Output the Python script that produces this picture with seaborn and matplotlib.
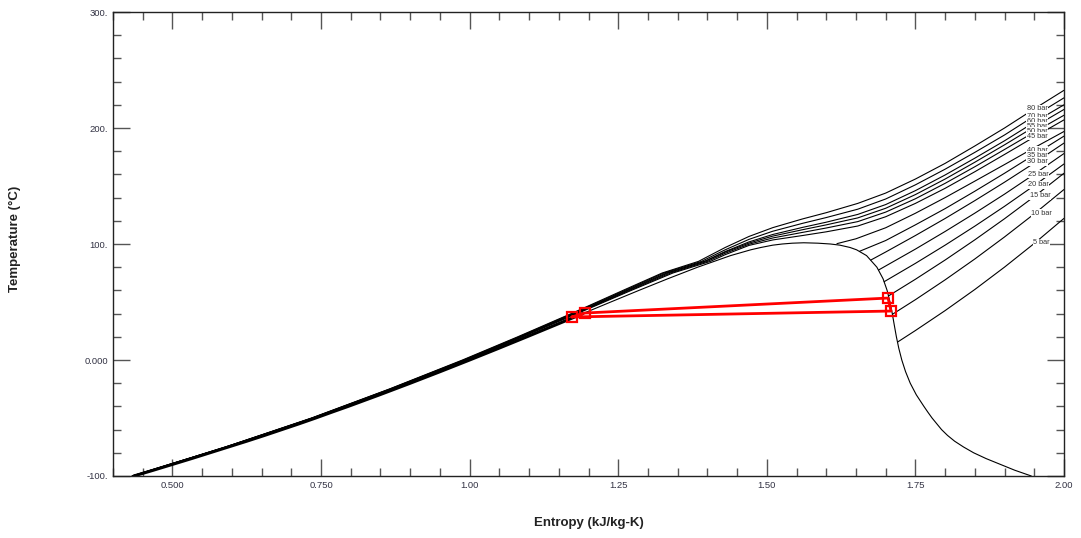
import numpy as np
import pandas as pd
import matplotlib
matplotlib.use("Agg")
import matplotlib.pyplot as plt
import seaborn as sns
from matplotlib.ticker import MultipleLocator, FixedLocator, FixedFormatter

# ---------------- data ----------------
# saturation dome, temperature in C, entropy in kJ/kg-K
sat_T = [-100, -95, -90, -85, -80, -75, -70, -65, -60, -55, -50, -45, -40, -30, -20, -10,
         0, 10, 20, 30, 40, 50, 60, 70, 80, 90, 95, 97, 99, 100, 100.7, 101.06]
sat_sf = [0.435, 0.468, 0.500, 0.532, 0.563, 0.594, 0.625, 0.655, 0.684, 0.713, 0.741,
          0.768, 0.7956, 0.8486, 0.9002, 0.9506, 1.0000, 1.0485, 1.0963, 1.1435, 1.1905,
          1.2375, 1.2848, 1.3332, 1.3836, 1.4390, 1.4730, 1.4900, 1.5100, 1.5260, 1.5430,
          1.5621]
sat_sg = [1.945, 1.917, 1.893, 1.869, 1.848, 1.831, 1.816, 1.804, 1.794, 1.786, 1.778,
          1.771, 1.7643, 1.7515, 1.7413, 1.7334, 1.7271, 1.7221, 1.7180, 1.7145, 1.7111,
          1.7072, 1.7024, 1.6956, 1.6852, 1.6678, 1.6510, 1.6400, 1.6230, 1.6070, 1.5860,
          1.5621]

# isobars (vapour / supercritical branches)
p_labels = ["5 bar", "10 bar", "15 bar", "20 bar", "25 bar", "30 bar", "35 bar",
            "40 bar", "45 bar", "50 bar", "55 bar", "60 bar", "70 bar", "80 bar"]
iso_s = [
    [1.7207, 1.75, 1.80, 1.85, 1.90, 1.95, 2.00],
    [1.7113, 1.75, 1.80, 1.85, 1.90, 1.95, 2.00],
    [1.7046, 1.75, 1.80, 1.85, 1.90, 1.95, 2.00],
    [1.6974, 1.75, 1.80, 1.85, 1.90, 1.95, 2.00],
    [1.6881, 1.75, 1.80, 1.85, 1.90, 1.95, 2.00],
    [1.6751, 1.70, 1.75, 1.80, 1.85, 1.90, 1.95, 2.00],
    [1.6560, 1.70, 1.75, 1.80, 1.85, 1.90, 1.95, 2.00],
    [1.6180, 1.65, 1.70, 1.75, 1.80, 1.85, 1.90, 1.95, 2.00],
    [0.434, 0.592, 0.738, 0.870, 0.995, 1.089, 1.181, 1.272, 1.342, 1.405, 1.43, 1.47, 1.51,
     1.56, 1.60, 1.653, 1.70, 1.75, 1.80, 1.85, 1.90, 1.95, 2.00],
    [0.434, 0.591, 0.737, 0.869, 0.993, 1.087, 1.179, 1.269, 1.338, 1.400, 1.43, 1.47, 1.51,
     1.56, 1.60, 1.653, 1.70, 1.75, 1.80, 1.85, 1.90, 1.95, 2.00],
    [0.433, 0.591, 0.736, 0.868, 0.992, 1.086, 1.177, 1.266, 1.334, 1.398, 1.43, 1.47, 1.51,
     1.56, 1.60, 1.653, 1.70, 1.75, 1.80, 1.85, 1.90, 1.95, 2.00],
    [0.433, 0.590, 0.736, 0.867, 0.991, 1.085, 1.176, 1.264, 1.331, 1.395, 1.43, 1.47, 1.51,
     1.56, 1.60, 1.653, 1.70, 1.75, 1.80, 1.85, 1.90, 1.95, 2.00],
    [0.432, 0.590, 0.735, 0.866, 0.990, 1.083, 1.173, 1.261, 1.327, 1.390, 1.43, 1.47, 1.51,
     1.56, 1.60, 1.653, 1.70, 1.75, 1.80, 1.85, 1.90, 1.95, 2.00],
    [0.432, 0.589, 0.734, 0.865, 0.988, 1.081, 1.171, 1.258, 1.324, 1.385, 1.43, 1.47, 1.51,
     1.56, 1.60, 1.653, 1.70, 1.75, 1.80, 1.85, 1.90, 1.95, 2.00],
]
iso_T = [
    [15.7, 25.4, 42.6, 60.8, 80.1, 100.5, 122.1],
    [39.4, 52.0, 69.1, 87.1, 106.1, 126.0, 147.0],
    [55.2, 69.6, 86.2, 103.6, 121.8, 140.9, 161.0],
    [67.5, 83.3, 99.0, 115.4, 132.5, 150.4, 169.0],
    [77.6, 95.6, 110.8, 126.6, 143.0, 160.2, 178.0],
    [86.2, 93.1, 107.3, 122.0, 137.4, 153.3, 169.8, 187.0],
    [93.7, 103.0, 116.5, 130.5, 145.5, 161.0, 177.0, 193.0],
    [100.3, 104.5, 114.0, 126.5, 140.0, 154.2, 168.5, 183.0, 197.0],
    [-100, -75, -50, -25, 0, 20, 40, 60, 75, 85, 90.8, 98.8, 103.5,
     107.3, 110.5, 115.5, 123.5, 135.0, 148.0, 162.3, 177.2, 192.3, 207.0],
    [-100, -75, -50, -25, 0, 20, 40, 60, 75, 85, 92.0, 99.8, 105.2,
     110.0, 113.8, 119.3, 127.5, 139.0, 152.3, 166.6, 181.5, 196.5, 211.0],
    [-100, -75, -50, -25, 0, 20, 40, 60, 75, 85.5, 93.0, 100.8, 106.8,
     112.3, 116.5, 122.5, 130.8, 142.6, 156.0, 170.5, 185.5, 201.0, 216.0],
    [-100, -75, -50, -25, 0, 20, 40, 60, 75, 85, 93.5, 101.8, 108.2,
     114.3, 118.8, 125.5, 134.0, 146.0, 159.5, 174.0, 189.0, 205.0, 220.0],
    [-100, -75, -50, -25, 0, 20, 40, 60, 75, 85, 95.0, 104.0, 111.0,
     117.8, 122.8, 130.0, 138.8, 151.0, 164.5, 179.0, 194.0, 210.3, 226.0],
    [-100, -75, -50, -25, 0, 20, 40, 60, 75, 85, 97.0, 106.5, 114.1,
     121.6, 127.0, 135.0, 143.9, 156.0, 169.5, 184.5, 200.0, 216.5, 232.5],
]
# label anchor positions (entropy, temperature)
lab_s = [1.962, 1.962, 1.960, 1.957, 1.957, 1.955, 1.955, 1.955, 1.955, 1.955, 1.955, 1.955, 1.955, 1.955]
lab_T = [100.9, 126.7, 141.4, 150.9, 160.3, 170.7, 176.7, 181.0, 193.1, 197.4, 201.7, 206.0, 210.3, 216.4]

# refrigeration cycle states
cyc_s = [1.172, 1.194, 1.704, 1.709, 1.172]
cyc_T = [37.1, 40.5, 53.4, 42.2, 37.1]

# ---------------- plot ----------------
sns.set_theme(style="white")
plt.rcParams["font.family"] = ["Liberation Sans", "DejaVu Sans"]

fig = plt.figure(figsize=(10.81, 5.38), dpi=100)
ax = fig.add_axes([113 / 1081, 1 - 476 / 538, (1064 - 113) / 1081, (476 - 12) / 538])

LW = 0.8
dome = pd.DataFrame({"s": sat_sf + sat_sg[::-1], "T": sat_T + sat_T[::-1]})
sns.lineplot(data=dome, x="s", y="T", sort=False, estimator=None, color="black",
             lw=LW, ax=ax)
liq = pd.DataFrame({"s": sat_sf[:21], "T": sat_T[:21]})
sns.lineplot(data=liq, x="s", y="T", sort=False, estimator=None, color="black",
             lw=2.2, ax=ax)

for s_vals, T_vals in zip(iso_s, iso_T):
    d = pd.DataFrame({"s": s_vals, "T": T_vals})
    sns.lineplot(data=d, x="s", y="T", sort=False, estimator=None, color="black",
                 lw=LW, ax=ax)

for i, (txt, s0, t0) in enumerate(zip(p_labels, lab_s, lab_T)):
    ax.text(s0, t0, txt, fontsize=5.3, color="#333333", ha="center", va="center",
            zorder=5 + (len(p_labels) - i) * 0.01,
            bbox=dict(facecolor="white", edgecolor="none", pad=0.3))

cyc = pd.DataFrame({"s": cyc_s, "T": cyc_T})
sns.lineplot(data=cyc, x="s", y="T", sort=False, estimator=None, color="#ff0000",
             lw=2.0, ax=ax, zorder=10)
ax.plot(cyc_s[:-1], cyc_T[:-1], ls="none", marker="s", ms=7, mfc="none",
        mec="#ff0000", mew=1.6, zorder=11)

ax.set_xlim(0.40, 2.00)
ax.set_ylim(-100, 300)
ax.xaxis.set_major_locator(FixedLocator([0.5, 0.75, 1.0, 1.25, 1.5, 1.75, 2.0]))
ax.xaxis.set_major_formatter(FixedFormatter(["0.500", "0.750", "1.00", "1.25", "1.50", "1.75", "2.00"]))
ax.xaxis.set_minor_locator(MultipleLocator(0.05))
ax.yaxis.set_major_locator(FixedLocator([-100, 0, 100, 200, 300]))
ax.yaxis.set_major_formatter(FixedFormatter(["-100.", "0.000", "100.", "200.", "300."]))
ax.yaxis.set_minor_locator(MultipleLocator(20))

ax.tick_params(which="both", direction="in", top=True, right=True, bottom=True, left=True,
               colors="#555555", labelcolor="#333344", labelsize=6.8)
ax.tick_params(which="major", length=12, width=1)
ax.tick_params(which="minor", length=6, width=1)
for sp in ax.spines.values():
    sp.set_color("#222222")
    sp.set_linewidth(1.0)

ax.set_xlabel("Entropy (kJ/kg-K)", fontsize=9.5, fontweight="bold", color="#222222")
ax.set_ylabel("Temperature (°C)", fontsize=9.5, fontweight="bold", color="#222222")
ax.xaxis.set_label_coords(0.5, -0.088)
ax.yaxis.set_label_coords(-0.097, 0.51)
ax.grid(False)

fig.savefig("out.png", dpi=100)
